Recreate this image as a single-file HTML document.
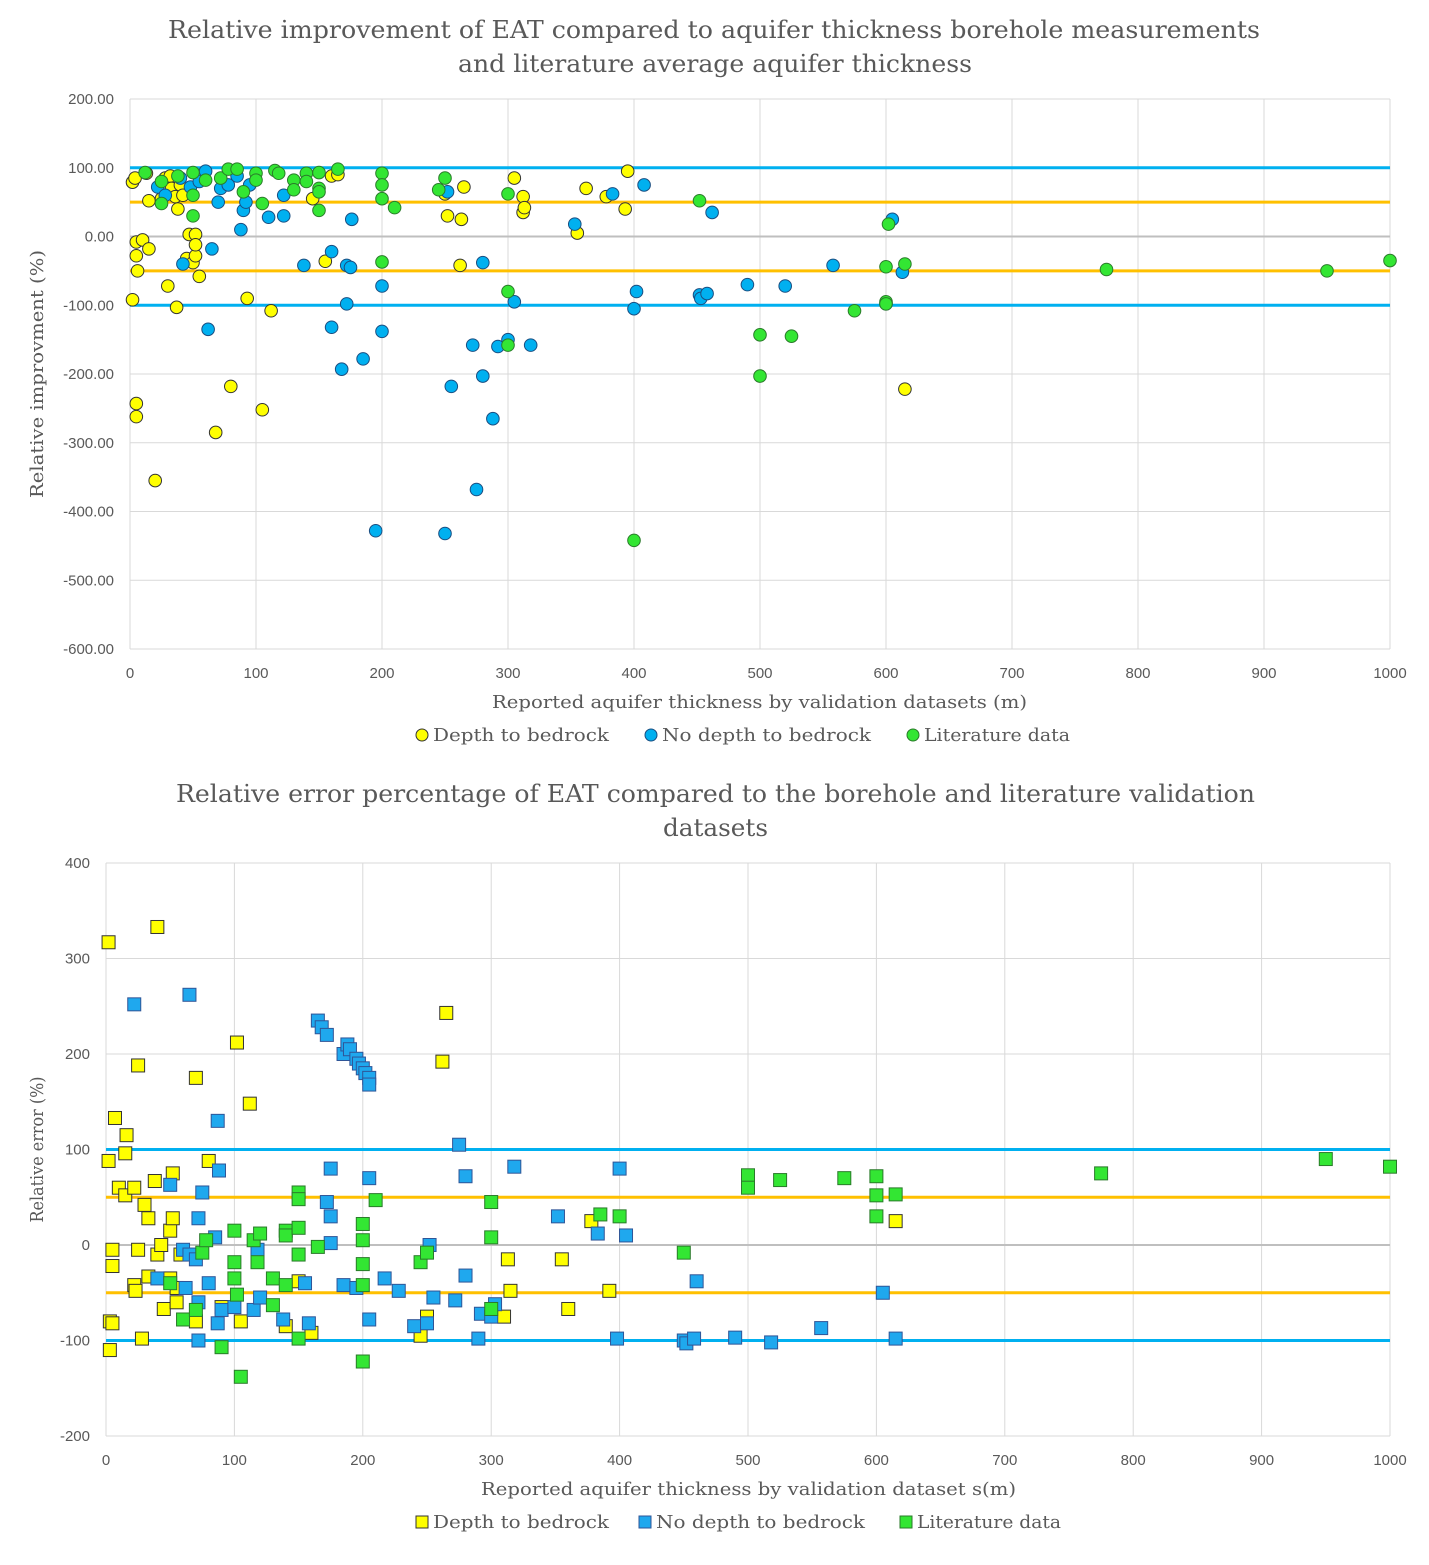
<!DOCTYPE html>
<html><head><meta charset="utf-8"><style>
body{margin:0;background:#fff;}
svg{display:block;font-family:"Liberation Sans",sans-serif;}
.t{font-family:"DejaVu Serif","Liberation Serif",serif;fill:#595959;}
</style></head><body>
<svg id="s" width="1429" height="1565" viewBox="0 0 1429 1565"></svg>
<script>
// ---- chart 1 data ----
const c1Yellow=[[2,79],[4,85],[13,92],[5,-8],[10,-5],[15,-18],[5,-28],[6,-50],[2,-92],[5,-243],[5,-262],[20,-355],[15,52],[25,55],[28,85],[32,88],[33,70],[36,58],[38,40],[40,75],[42,60],[45,-32],[47,3],[50,-38],[52,-28],[52,3],[52,-12],[55,-58],[30,-72],[37,-103],[68,-285],[80,-218],[93,-90],[105,-252],[112,-108],[145,55],[155,-36],[160,88],[165,90],[250,62],[252,30],[262,-42],[263,25],[265,72],[305,85],[312,58],[312,35],[313,42],[355,5],[362,70],[378,58],[393,40],[395,95],[615,-222]];
const c1Blue=[[22,72],[28,60],[40,85],[42,-40],[48,72],[55,80],[60,95],[62,-135],[65,-18],[70,50],[72,70],[78,75],[85,88],[88,10],[90,38],[92,50],[95,75],[110,28],[122,60],[122,30],[138,-42],[160,-22],[160,-132],[168,-193],[172,-42],[172,-98],[175,-45],[176,25],[185,-178],[195,-428],[200,-72],[200,-138],[250,-432],[252,65],[255,-218],[272,-158],[275,-368],[280,-38],[280,-203],[288,-265],[292,-160],[300,-150],[305,-95],[318,-158],[353,18],[383,62],[400,-105],[402,-80],[408,75],[452,-85],[453,-90],[458,-83],[462,35],[490,-70],[520,-72],[558,-42],[600,-98],[605,25],[613,-52]];
const c1Green=[[12,93],[25,48],[25,80],[38,88],[50,93],[50,60],[50,30],[60,82],[72,85],[78,98],[85,98],[90,65],[100,92],[100,82],[105,48],[115,96],[118,92],[130,82],[130,68],[140,92],[140,80],[150,93],[150,70],[150,65],[150,38],[165,98],[200,92],[200,75],[200,55],[200,-37],[210,42],[245,68],[250,85],[300,62],[300,-80],[300,-158],[400,-442],[452,52],[500,-143],[500,-203],[525,-145],[575,-108],[600,-95],[600,-98],[600,-44],[602,18],[615,-40],[775,-48],[950,-50],[1000,-35]];
const c1YTicks=["200.00","100.00","0.00","-100.00","-200.00","-300.00","-400.00","-500.00","-600.00"];
const xTicks=[0,100,200,300,400,500,600,700,800,900,1000];
// ---- chart 2 data ----
const c2Yellow=[[2,317],[40,333],[7,133],[16,115],[15,96],[2,88],[5,-5],[5,-22],[3,-80],[5,-82],[3,-110],[10,60],[15,52],[22,60],[22,-42],[23,-48],[25,188],[25,-5],[28,-98],[30,42],[33,28],[33,-33],[38,67],[40,-10],[43,0],[45,-67],[50,15],[50,-35],[52,28],[52,75],[55,-60],[55,-45],[58,-10],[70,175],[70,-80],[80,88],[90,-65],[102,212],[105,-80],[112,148],[150,-38],[160,-92],[140,-85],[245,-95],[250,-75],[262,192],[265,243],[310,-75],[313,-15],[315,-48],[355,-15],[360,-67],[378,25],[392,-48],[615,25]];
const c2Blue=[[22,252],[65,262],[87,130],[88,78],[75,55],[50,63],[40,-35],[60,-5],[62,-45],[65,-10],[70,-15],[72,-100],[72,-60],[72,28],[80,-40],[85,8],[87,-82],[90,-68],[100,-65],[115,-68],[118,-5],[120,-55],[138,-78],[155,-40],[158,-82],[165,235],[168,228],[172,220],[175,80],[172,45],[175,30],[175,2],[185,-42],[185,200],[188,210],[190,205],[195,195],[197,190],[200,185],[202,180],[205,175],[205,168],[205,70],[205,-78],[195,-45],[217,-35],[228,-48],[240,-85],[250,-82],[252,0],[255,-55],[275,105],[272,-58],[280,72],[280,-32],[290,-98],[292,-72],[300,-75],[303,-62],[318,82],[352,30],[383,12],[398,-98],[400,80],[405,10],[450,-100],[452,-103],[460,-38],[458,-98],[490,-97],[518,-102],[557,-87],[605,-50],[615,-98]];
const c2Green=[[50,-40],[60,-78],[70,-68],[75,-8],[78,5],[90,-107],[100,15],[100,-18],[100,-35],[102,-52],[105,-138],[115,5],[118,-18],[120,12],[130,-35],[130,-63],[140,15],[140,10],[140,-42],[150,55],[150,48],[150,18],[150,-10],[150,-98],[165,-2],[200,22],[200,5],[200,-20],[200,-42],[200,-122],[210,47],[245,-18],[250,-8],[300,45],[300,8],[300,-67],[385,32],[400,30],[450,-8],[500,73],[500,60],[525,68],[575,70],[600,72],[600,52],[600,30],[615,53],[775,75],[950,90],[1000,82]];
const c2YTicks=["400","300","200","100","0","-100","-200"];

const S=document.getElementById('s');
const NS="http://www.w3.org/2000/svg";
function mk(tag,at,txt){const e=document.createElementNS(NS,tag);for(const k in at)e.setAttribute(k,at[k]);if(txt!=null)e.textContent=txt;S.appendChild(e);return e;}

function chart(o){
  const sx=v=>o.x0+(v-0)/1000*(o.x1-o.x0);
  const sy=v=>o.yTop+(o.ymax-v)/(o.ymax-o.ymin)*(o.yBot-o.yTop);
  for(let i=0;i<o.yt.length;i++){const v=o.ymax-i*o.step;
    const g=mk('line',{x1:o.x0,x2:o.x1,y1:sy(v),y2:sy(v),stroke:'#d9d9d9','stroke-width':1});
    
    const t=mk('text',{x:o.ylx,y:sy(v)+5,'text-anchor':'end','font-size':15,fill:'#595959'},o.yt[i]);
    }
  for(const v of xTicks){
    const g=mk('line',{x1:sx(v),x2:sx(v),y1:o.yTop,y2:o.yBot,stroke:'#d9d9d9','stroke-width':1});
    
    const t=mk('text',{x:sx(v),y:o.yBot+29,'text-anchor':'middle','font-size':15,fill:'#595959'},String(v));
    }
  [[0,'#bfbfbf',2],[100,'#00b0f0',3],[-100,'#00b0f0',3],[50,'#ffc000',3],[-50,'#ffc000',3]].forEach(r=>{
    const l=mk('line',{x1:sx(0),x2:sx(1000),y1:sy(r[0]),y2:sy(r[0]),stroke:r[1],'stroke-width':r[2]});
    });
  const series=[[o.y,'#ffff00','#333','yellow'],[o.b,o.bc,o.bs,'blue'],[o.g,'#33e633','#2a7a2a','green']];
  for(const s of series){for(const p of s[0]){
    let e;
    if(o.sq) e=mk('rect',{x:sx(p[0])-6.5,y:sy(p[1])-6.5,width:13,height:13,fill:s[1],stroke:s[2],'stroke-width':1});
    else e=mk('circle',{cx:sx(p[0]),cy:sy(p[1]),r:6.3,fill:s[1],stroke:s[2],'stroke-width':1});
    
    }}
  o.title.forEach((l,i)=>{const t=mk('text',{x:o.tx[i],y:o.ty+i*34,'font-size':24,class:'t',textLength:o.tw[i],lengthAdjust:'spacingAndGlyphs'},l);
    });
  let t=mk('text',{x:o.xtx,y:o.yBot+59,'font-size':18,class:'t',textLength:535,lengthAdjust:'spacingAndGlyphs'},o.xTitle);
  
  const cy=(o.yTop+o.yBot)/2;
  t=mk('text',{x:43,y:cy,'text-anchor':'middle','font-size':18,class:'t',textLength:o.ytw,lengthAdjust:'spacingAndGlyphs',transform:`rotate(-90 43 ${cy})`},o.yTitle);
  
  const ly=o.yBot+86;
  const items=[['Depth to bedrock','#ffff00','#333',o.lx[0],176],['No depth to bedrock',o.bc,o.bs,o.lx[1],209],['Literature data','#33e633','#2a7a2a',o.lx[2],o.lw]];
  for(const it of items){
    if(o.sq)mk('rect',{x:it[3]-6,y:ly-6,width:12,height:12,fill:it[1],stroke:it[2]});
    else mk('circle',{cx:it[3],cy:ly,r:6,fill:it[1],stroke:it[2]});
    const lt=mk('text',{x:it[3]+11,y:ly+6,'font-size':18,class:'t',textLength:it[4],lengthAdjust:'spacingAndGlyphs'},it[0]);
    }
}
chart({x0:130,x1:1390,yTop:99,yBot:649,ymax:200,ymin:-600,step:100,yt:c1YTicks,ylx:114,sq:false,
  y:c1Yellow,b:c1Blue,g:c1Green,bc:'#00b0f0',bs:'#1a4d80',
  title:['Relative improvement of EAT compared to aquifer thickness borehole measurements','and literature average aquifer thickness'],ty:38,tx:[168,458],tw:[1092,514],
  xTitle:'Reported aquifer thickness by validation datasets (m)',xtx:492,yTitle:'Relative improvment (%)',ytw:248,lx:[422,651,913],lw:146});
chart({x0:106,x1:1390,yTop:863,yBot:1436,ymax:400,ymin:-200,step:100,yt:c2YTicks,ylx:90,sq:true,
  y:c2Yellow,b:c2Blue,g:c2Green,bc:'#1fa8ee',bs:'#2f5597',
  title:['Relative error percentage of EAT compared to the borehole and literature validation','datasets'],ty:802,tx:[176,663],tw:[1079,105],
  xTitle:'Reported aquifer thickness by validation dataset s(m)',xtx:481,yTitle:'Relative error (%)',ytw:146,lx:[422,645,906],lw:144});
</script>
</body></html>
